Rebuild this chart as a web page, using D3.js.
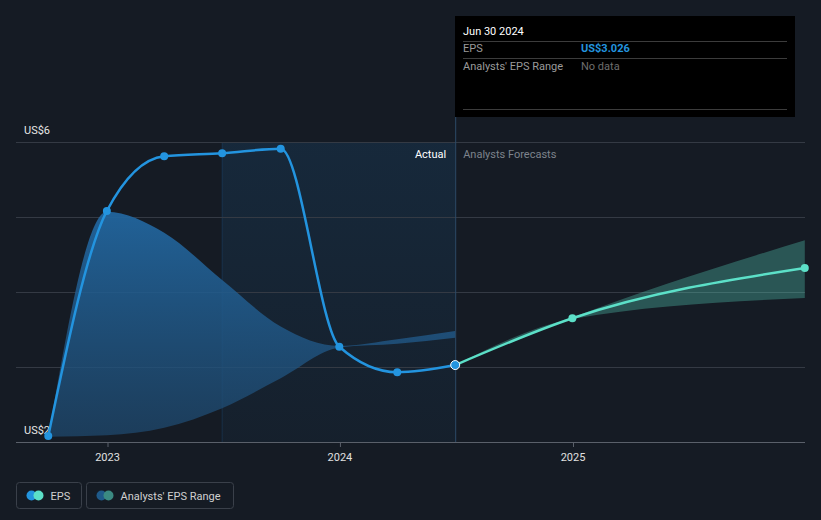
<!DOCTYPE html>
<html>
<head>
<meta charset="utf-8">
<script src="https://cdn.jsdelivr.net/npm/d3@7"></script>
<style>
  html, body { margin: 0; padding: 0; background: #151b24; }
  svg { display: block; font-family: Roboto, "Noto Sans", sans-serif; }
</style>
</head>
<body>
<svg id="chart" width="821" height="520"></svg>
<script>
// ---- data ----
const epsDates = ["2022-09-30", "2022-12-31", "2023-03-31", "2023-06-30", "2023-09-30", "2023-12-31", "2024-03-31", "2024-06-30"];
const epsValues = [2.08, 5.08, 5.81, 5.85, 5.91, 3.27, 2.93, 3.026];

const pastRangeDates = ["2022-09-30", "2022-12-31", "2023-03-31", "2023-06-30", "2023-09-30", "2023-12-31", "2024-03-31", "2024-06-30"];
const pastRangeHigh = [2.07, 5.07, 4.79, 4.16, 3.54, 3.28, 3.37, 3.48];
const pastRangeLow  = [2.07, 2.09, 2.19, 2.45, 2.85, 3.26, 3.31, 3.39];

const forecastDates = ["2024-06-30", "2024-12-31", "2025-12-31"];
const forecastValues = [3.026, 3.65, 4.32];
const forecastHigh = [3.026, 3.66, 4.69];
const forecastLow  = [3.026, 3.64, 3.92];

const yTicks = [2, 3, 4, 5, 6];
const yTickLabels = ["US$2", "", "", "", "US$6"];
const xTicks = ["2023-01-01", "2024-01-01", "2025-01-01"];
const xTickLabels = ["2023", "2024", "2025"];

const tooltipDate = "Jun 30 2024";
const tooltipEps = "US$3.026";
const tooltipRange = "No data";

(function () {
// ---- setup ----
const parse = d3.utcParse("%Y-%m-%d");
const svg = d3.select("#chart");
const pLeft = 16, pRight = 805, pTop = 142, pBottom = 442;

const x = d3.scaleUtc()
  .domain([parse("2023-01-01"), parse("2025-01-01")])
  .range([107.5, 573]);
const y = d3.scaleLinear().domain([2, 6]).range([pBottom, pTop]);

const splitDate = parse("2024-06-30");
const highlightStart = parse("2023-06-30");

const defs = svg.append("defs");
const g1 = defs.append("linearGradient").attr("id", "pastBand")
  .attr("gradientUnits", "userSpaceOnUse").attr("x1", 0).attr("x2", 0).attr("y1", 200).attr("y2", pBottom);
g1.append("stop").attr("offset", 0).attr("stop-color", "#2268a2").attr("stop-opacity", 0.95);
g1.append("stop").attr("offset", 1).attr("stop-color", "#1f4a70").attr("stop-opacity", 0.7);

const g2 = defs.append("linearGradient").attr("id", "hl")
  .attr("gradientUnits", "userSpaceOnUse").attr("x1", 0).attr("x2", 0).attr("y1", pTop).attr("y2", pBottom);
g2.append("stop").attr("offset", 0).attr("stop-color", "#2196f3").attr("stop-opacity", 0.11);
g2.append("stop").attr("offset", 1).attr("stop-color", "#2196f3").attr("stop-opacity", 0.04);

defs.append("clipPath").attr("id", "clip").append("rect")
  .attr("x", pLeft).attr("y", 0).attr("width", pRight - pLeft).attr("height", pBottom + 1);

// highlight region
svg.append("rect")
  .attr("x", x(highlightStart)).attr("y", pTop)
  .attr("width", x(splitDate) - x(highlightStart)).attr("height", pBottom - pTop)
  .attr("fill", "url(#hl)");
svg.append("line")
  .attr("x1", x(highlightStart)).attr("x2", x(highlightStart))
  .attr("y1", pTop).attr("y2", pBottom)
  .attr("stroke", "#2196f3").attr("stroke-opacity", 0.15);

// gridlines
svg.append("g").selectAll("line").data(yTicks).join("line")
  .attr("x1", pLeft).attr("x2", pRight)
  .attr("y1", d => y(d) + 0.5).attr("y2", d => y(d) + 0.5)
  .attr("stroke", d => d === 2 ? "#5a606a" : "#343a44")
  .attr("stroke-width", 1);

// y labels
svg.append("g").selectAll("text").data(yTicks.filter((d, i) => yTickLabels[i] !== "")).join("text")
  .attr("x", 24).attr("y", d => y(d) - 8)
  .attr("fill", "#e6e6e6").attr("font-size", 11)
  .text(d => yTickLabels[yTicks.indexOf(d)]);

// x axis ticks/labels
const xAxisG = svg.append("g");
xAxisG.selectAll("line").data(xTicks).join("line")
  .attr("x1", d => x(parse(d)) + 0.5).attr("x2", d => x(parse(d)) + 0.5)
  .attr("y1", pBottom).attr("y2", pBottom + 5)
  .attr("stroke", "#5a606a");
xAxisG.selectAll("text").data(xTicks).join("text")
  .attr("x", d => x(parse(d))).attr("y", pBottom + 19)
  .attr("text-anchor", "middle").attr("fill", "#e0e0e0").attr("font-size", 11)
  .text((d, i) => xTickLabels[i]);

const plot = svg.append("g").attr("clip-path", "url(#clip)");

// past analyst range band
const pastBand = pastRangeDates.map((d, i) => ({ d: parse(d), hi: pastRangeHigh[i], lo: pastRangeLow[i] }));
plot.append("path").datum(pastBand)
  .attr("d", d3.area().curve(d3.curveMonotoneX)
    .x(p => x(p.d)).y0(p => y(p.lo)).y1(p => y(p.hi)))
  .attr("fill", "url(#pastBand)");

// forecast band
const fBand = forecastDates.map((d, i) => ({ d: parse(d), hi: forecastHigh[i], lo: forecastLow[i] }));
plot.append("path").datum(fBand)
  .attr("d", d3.area().curve(d3.curveMonotoneX)
    .x(p => x(p.d)).y0(p => y(p.lo)).y1(p => y(p.hi)))
  .attr("fill", "#5ce0c8").attr("fill-opacity", 0.3);

// divider line at split
svg.append("line")
  .attr("x1", x(splitDate) + 0.5).attr("x2", x(splitDate) + 0.5)
  .attr("y1", 16).attr("y2", pBottom)
  .attr("stroke", "#2c4a68").attr("stroke-width", 1);

// Actual / Analysts Forecasts labels
svg.append("text").attr("x", x(splitDate) - 9).attr("y", 158)
  .attr("text-anchor", "end").attr("fill", "#ffffff").attr("font-size", 11).text("Actual");
svg.append("text").attr("x", x(splitDate) + 8).attr("y", 158)
  .attr("fill", "#7d838c").attr("font-size", 11).text("Analysts Forecasts");

// EPS line
const eps = epsDates.map((d, i) => ({ d: parse(d), v: epsValues[i] }));
const lineGen = d3.line().curve(d3.curveMonotoneX).x(p => x(p.d)).y(p => y(p.v));
plot.append("path").datum(eps).attr("d", lineGen)
  .attr("fill", "none").attr("stroke", "#2394df").attr("stroke-width", 2.5);

// forecast line
const fc = forecastDates.map((d, i) => ({ d: parse(d), v: forecastValues[i] }));
plot.append("path").datum(fc).attr("d", lineGen)
  .attr("fill", "none").attr("stroke", "#5ce0c8").attr("stroke-width", 2.5);

// points
svg.append("g").selectAll("circle").data(fc.slice(1)).join("circle")
  .attr("cx", p => x(p.d)).attr("cy", p => y(p.v)).attr("r", 4)
  .attr("fill", "#5ce0c8");
svg.append("g").selectAll("circle").data(eps.slice(0, -1)).join("circle")
  .attr("cx", p => x(p.d)).attr("cy", p => y(p.v)).attr("r", 4)
  .attr("fill", "#2394df");
const last = eps[eps.length - 1];
svg.append("circle").attr("cx", x(last.d)).attr("cy", y(last.v)).attr("r", 4.5)
  .attr("fill", "#2394df").attr("stroke", "#ffffff").attr("stroke-width", 1);

// tooltip
const tt = svg.append("g").attr("transform", "translate(455,16)");
tt.append("rect").attr("width", 340).attr("height", 101).attr("fill", "#000000");
tt.append("text").attr("x", 8).attr("y", 19).attr("fill", "#ffffff").attr("font-size", 11).text(tooltipDate);
[25, 42, 93].forEach(yy => tt.append("line").attr("x1", 8).attr("x2", 332)
  .attr("y1", yy + 0.5).attr("y2", yy + 0.5).attr("stroke", "#3c3c3c"));
tt.append("text").attr("x", 8).attr("y", 36).attr("fill", "#9a9a9a").attr("font-size", 11).text("EPS");
tt.append("text").attr("x", 126).attr("y", 36).attr("fill", "#2394df").attr("font-size", 11)
  .attr("font-weight", "bold").text(tooltipEps);
tt.append("text").attr("x", 8).attr("y", 54).attr("fill", "#9a9a9a").attr("font-size", 11).text("Analysts' EPS Range");
tt.append("text").attr("x", 126).attr("y", 54).attr("fill", "#6e6e6e").attr("font-size", 11).text(tooltipRange);

// legend
const legendItems = [
  { label: "EPS", c1: "#2394df", c2: "#5ce0c8", x: 16, w: 65 },
  { label: "Analysts' EPS Range", c1: "#1f5a8a", c2: "#3b8a82", x: 86, w: 147 }
];
const lg = svg.append("g").selectAll("g").data(legendItems).join("g")
  .attr("transform", d => `translate(${d.x + 0.5},482.5)`);
lg.append("rect").attr("width", d => d.w).attr("height", 26).attr("rx", 3)
  .attr("fill", "none").attr("stroke", "#3a404a");
lg.append("circle").attr("cx", 15).attr("cy", 13).attr("r", 5).attr("fill", d => d.c1);
lg.append("circle").attr("cx", 22).attr("cy", 13).attr("r", 5).attr("fill", d => d.c2);
lg.append("text").attr("x", 34).attr("y", 17).attr("fill", "#d0d0d0").attr("font-size", 11).text(d => d.label);
})();
</script>
</body>
</html>
